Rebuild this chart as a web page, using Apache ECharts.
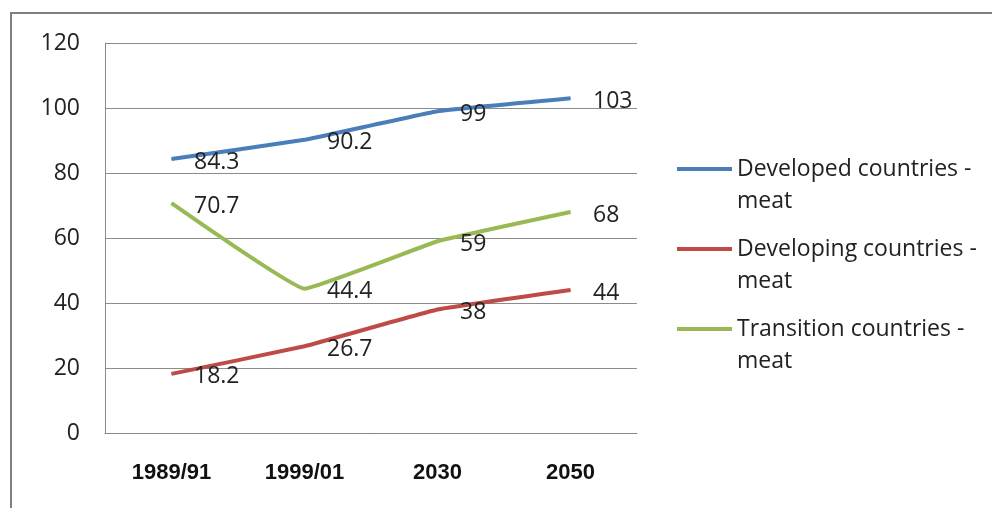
<!DOCTYPE html>
<html>
<head>
<meta charset="utf-8">
<script src="https://cdn.jsdelivr.net/npm/echarts@6/dist/echarts.min.js"></script>
<style>
html,body{margin:0;padding:0;background:#fff;}
#chart{width:992px;height:508px;}
</style>
</head>
<body>
<div id="chart"></div>
<script>
const categories = ['1989/91', '1999/01', '2030', '2050'];
const developed = [84.3, 90.2, 99, 103];
const developing = [18.2, 26.7, 38, 44];
const transition = [70.7, 44.4, 59, 68];
const seriesNames = ['Developed countries - meat', 'Developing countries - meat', 'Transition countries - meat'];
const seriesColors = ['#4A7EBB', '#BE4B48', '#98B954'];
const yTicks = { min: 0, max: 120, interval: 20 };

const font = 'Open Sans';
const chart = echarts.init(document.getElementById('chart'));

function mk(name, data, color) {
  return {
    name: name,
    type: 'line',
    data: data,
    smooth: 0.08,
    symbol: 'circle',
    symbolSize: 1,
    showSymbol: true,
    lineStyle: { color: color, width: 4 },
    itemStyle: { color: color },
    label: {
      show: true,
      position: 'right',
      distance: 22,
      offset: [0, 3],
      fontFamily: font,
      fontSize: 23,
      color: '#222'
    }
  };
}

chart.setOption({
  animation: false,
  backgroundColor: '#fff',
  graphic: [{
    type: 'rect',
    shape: { x: 11, y: 13, width: 1000, height: 520 },
    style: { fill: 'none', stroke: '#808080', lineWidth: 2 },
    silent: true
  }],
  grid: { left: 105, right: 355, top: 43, bottom: 75 },
  legend: {
    orient: 'vertical',
    left: 677,
    top: 121,
    padding: 0,
    itemGap: -16,
    itemTextGap: 6,
    icon: 'rect',
    itemWidth: 55,
    itemHeight: 4,
    selectedMode: false,
    formatter: function (n) { return ' \n' + n.replace(' - ', ' -\n'); },
    textStyle: {
      fontFamily: font,
      fontSize: 23,
      color: '#222',
      lineHeight: 32
    },
    data: seriesNames
  },
  xAxis: {
    type: 'category',
    data: categories,
    boundaryGap: true,
    axisLine: { lineStyle: { color: '#888', width: 1 } },
    axisTick: { show: false },
    axisLabel: {
      margin: 29,
      fontFamily: 'Liberation Sans',
      fontWeight: 'bold',
      fontSize: 22,
      color: '#111'
    }
  },
  yAxis: {
    type: 'value',
    min: yTicks.min,
    max: yTicks.max,
    interval: yTicks.interval,
    axisLine: { show: true, lineStyle: { color: '#888', width: 1 } },
    axisTick: { show: false },
    splitLine: { lineStyle: { color: '#8c8c8c', width: 1 } },
    axisLabel: {
      margin: 25,
      fontFamily: font,
      fontSize: 23,
      color: '#222'
    }
  },
  series: [
    mk(seriesNames[0], developed, seriesColors[0]),
    mk(seriesNames[1], developing, seriesColors[1]),
    mk(seriesNames[2], transition, seriesColors[2])
  ]
});
</script>
</body>
</html>
